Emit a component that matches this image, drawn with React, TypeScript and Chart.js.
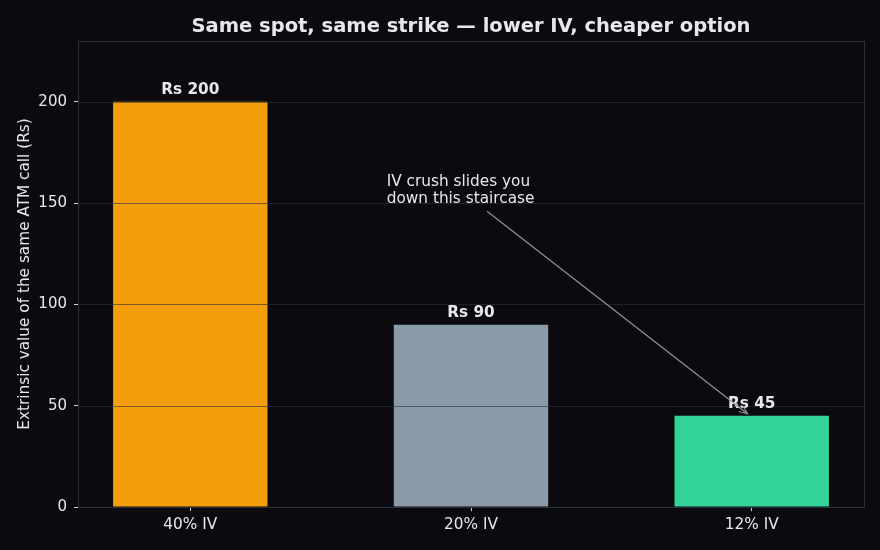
import React, { useEffect, useRef } from "react";
import { Chart, registerables } from "chart.js";

Chart.register(...registerables);

const categories = ["40% IV", "20% IV", "12% IV"];
const extrinsicValues = [200, 90, 45];
const valueLabels = ["Rs 200", "Rs 90", "Rs 45"];
const barColors = ["#f59e0b", "#8b9aa8", "#34d399"];
const yTicks = [0, 50, 100, 150, 200];
const noteLines = ["IV crush slides you", "down this staircase"];

const BG = "#0b0b0f";
const TEXT = "#e6e8eb";
const FRAME = "#25303c";
const GRID = "rgba(40,50,65,0.6)";
const FONT = "'DejaVu Sans', sans-serif";
const FS = 15.3;

const overlay = {
  id: "overlay",
  beforeDraw(chart: any) {
    const { ctx, width, height } = chart;
    ctx.save();
    ctx.fillStyle = BG;
    ctx.fillRect(0, 0, width, height);
    ctx.restore();
  },
  afterDatasetsDraw(chart: any) {
    const { ctx, chartArea: a, scales } = chart;
    const x = scales.x;
    const y = scales.y;
    ctx.save();

    // horizontal grid on top of the bars
    ctx.strokeStyle = GRID;
    ctx.lineWidth = 1;
    yTicks.forEach((t) => {
      if (t === 0) return;
      const py = Math.round(y.getPixelForValue(t)) + 0.5;
      ctx.beginPath();
      ctx.moveTo(a.left, py);
      ctx.lineTo(a.right, py);
      ctx.stroke();
    });

    // frame
    ctx.strokeStyle = FRAME;
    ctx.strokeRect(Math.round(a.left) + 0.5, Math.round(a.top) + 0.5, Math.round(a.right - a.left), Math.round(a.bottom - a.top));

    // value labels
    ctx.fillStyle = TEXT;
    ctx.font = `bold ${FS}px ${FONT}`;
    ctx.textAlign = "center";
    ctx.textBaseline = "bottom";
    extrinsicValues.forEach((v, i) => {
      ctx.fillText(valueLabels[i], x.getPixelForValue(i), y.getPixelForValue(v) - 4);
    });

    // annotation text
    ctx.font = `${FS}px ${FONT}`;
    ctx.textAlign = "left";
    ctx.textBaseline = "top";
    const tx = x.getPixelForValue(0.7);
    const ty = y.getPixelForValue(164);
    noteLines.forEach((l, k) => ctx.fillText(l, tx, ty + k * 17));

    // annotation arrow
    const x0 = x.getPixelForValue(1.057);
    const y0 = y.getPixelForValue(146);
    const x1 = x.getPixelForValue(1.985);
    const y1 = y.getPixelForValue(46);
    ctx.strokeStyle = "#8a939d";
    ctx.lineWidth = 1.2;
    ctx.beginPath();
    ctx.moveTo(x0, y0);
    ctx.lineTo(x1, y1);
    ctx.stroke();
    const ang = Math.atan2(y1 - y0, x1 - x0);
    const hl = 9;
    ctx.beginPath();
    ctx.moveTo(x1 - hl * Math.cos(ang - 0.4), y1 - hl * Math.sin(ang - 0.4));
    ctx.lineTo(x1, y1);
    ctx.lineTo(x1 - hl * Math.cos(ang + 0.4), y1 - hl * Math.sin(ang + 0.4));
    ctx.stroke();

    // title
    ctx.fillStyle = TEXT;
    ctx.font = `bold 19.5px ${FONT}`;
    ctx.textAlign = "center";
    ctx.textBaseline = "middle";
    ctx.fillText("Same spot, same strike \u2014 lower IV, cheaper option", (a.left + a.right) / 2, 27);

    // y axis title
    ctx.font = `${FS}px ${FONT}`;
    ctx.translate(25, (a.top + a.bottom) / 2);
    ctx.rotate(-Math.PI / 2);
    ctx.fillText("Extrinsic value of the same ATM call (Rs)", 0, 0);
    ctx.restore();
  },
};

export default function App() {
  const ref = useRef<HTMLCanvasElement>(null);

  useEffect(() => {
    document.body.style.margin = "0";
    document.body.style.background = BG;
    const chart = new Chart(ref.current!, {
      type: "bar",
      data: {
        datasets: [
          {
            data: extrinsicValues.map((v, i) => ({ x: i, y: v })),
            backgroundColor: barColors,
            borderWidth: 0,
            barPercentage: 0.55,
            categoryPercentage: 1,
          },
        ],
      },
      options: {
        responsive: false,
        animation: false,
        layout: { padding: { top: 41, right: 16, left: 0, bottom: 0 } },
        plugins: { legend: { display: false }, tooltip: { enabled: false }, title: { display: false } },
        scales: {
          x: {
            type: "linear",
            min: -0.4,
            max: 2.4,
            offset: false,
            afterBuildTicks: (s: any) => {
              s.ticks = categories.map((_, i) => ({ value: i }));
            },
            afterFit: (s: any) => {
              s.height = 43;
            },
            border: { display: false },
            grid: { drawOnChartArea: false, offset: false, tickLength: 4, color: "#cfd3d8", tickWidth: 1 },
            ticks: {
              color: TEXT,
              font: { family: FONT, size: FS },
              padding: 5,
              callback: (v: any) => categories[v] ?? "",
            },
          },
          y: {
            min: 0,
            max: 230,
            afterBuildTicks: (s: any) => {
              s.ticks = yTicks.map((t) => ({ value: t }));
            },
            afterFit: (s: any) => {
              s.width = 78;
            },
            border: { display: false },
            grid: { drawOnChartArea: false, tickLength: 4, color: "#cfd3d8", tickWidth: 1 },
            ticks: { color: TEXT, font: { family: FONT, size: 15 }, padding: 7 },
          },
        },
      },
      plugins: [overlay],
    });
    return () => chart.destroy();
  }, []);

  return (
    <div style={{ width: 880, height: 550, background: BG }}>
      <canvas ref={ref} width={880} height={550} />
    </div>
  );
}
